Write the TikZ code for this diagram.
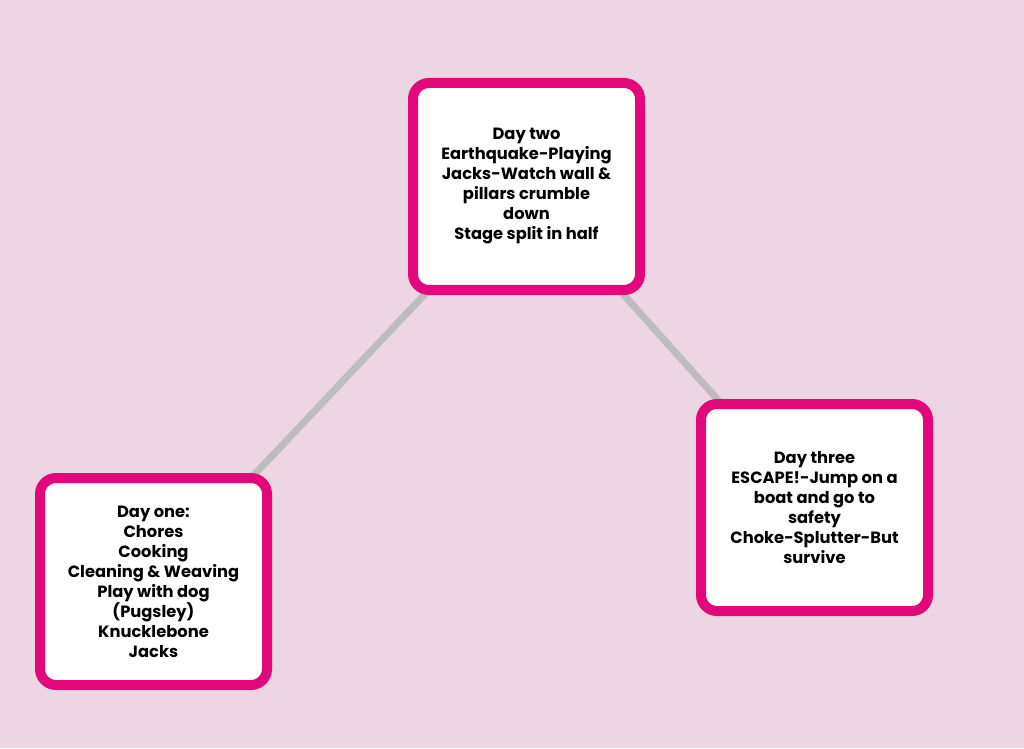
\documentclass[tikz,border=0pt]{standalone}
\usepackage{fontspec}
\setmainfont{Poppins}
\definecolor{bgPink}{HTML}{EDD5E3}
\definecolor{dayMagenta}{HTML}{E2087C}
\definecolor{linkGray}{HTML}{BDBDBD}
\begin{document}
\begin{tikzpicture}[x=1pt,y=1pt,
    dayBox/.style={draw=dayMagenta, line width=10pt, fill=white, rounded corners=16pt,
        minimum width=227pt, minimum height=207pt, align=center,
        font=\bfseries\fontsize{16.3}{20}\selectfont, inner sep=0pt},
    link/.style={draw=linkGray, line width=7pt}
]
  \fill[bgPink] (0,0) rectangle (1024,748);
  \useasboundingbox (0,0) rectangle (1024,748);

  \coordinate (dayOnePos) at (153.5,166.5);
  \coordinate (dayTwoPos) at (526.5,561.5);
  \coordinate (dayThreePos) at (814.5,240.5);

  % connectors first, boxes on top
  \draw[link] (dayOnePos) -- (dayTwoPos);
  \draw[link] (dayTwoPos) -- (dayThreePos);

  \node[dayBox] (dayTwo) at (dayTwoPos) {Day two\\Earthquake-Playing\\Jacks-Watch wall \&\\pillars crumble\\down\\Stage split in half};
  \node[dayBox] (dayOne) at (dayOnePos) {Day one:\\Chores\\Cooking\\Cleaning \& Weaving\\Play with dog\\(Pugsley)\\Knucklebone\\Jacks};
  \node[dayBox] (dayThree) at (dayThreePos) {Day three\\ESCAPE!-Jump on a\\boat and go to\\safety\\Choke-Splutter-But\\survive};

\end{tikzpicture}
\end{document}
